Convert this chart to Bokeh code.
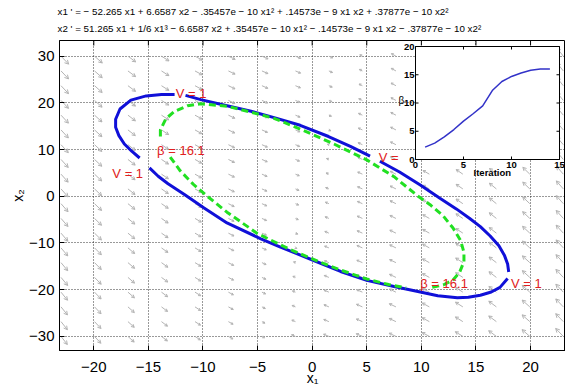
import numpy as np
from bokeh.plotting import figure
from bokeh.models import Range1d, FixedTicker, Title
from bokeh.core.properties import value
from bokeh.embed import file_html
from bokeh.resources import INLINE

FONT = "Liberation Sans"

# ---------------- data ----------------
eq_line1 = "x1 ' = − 52.265 x1 + 6.6587 x2 − .35457e − 10 x1² + .14573e − 9 x1 x2 + .37877e − 10 x2²"
eq_line2 = "x2 ' = 51.265 x1 + 1/6 x1³ − 6.6587 x2 + .35457e − 10 x1² − .14573e − 9 x1 x2 − .37877e − 10 x2²"

# x1' coefficients: [x1, x2, x1^2, x1*x2, x2^2]
coef_x1dot = [-52.265, 6.6587, -0.35457e-10, 0.14573e-9, 0.37877e-10]
# x2' coefficients: [x1, x1^3, x2, x1^2, x1*x2, x2^2]
coef_x2dot = [51.265, 1 / 6, -6.6587, 0.35457e-10, -0.14573e-9, -0.37877e-10]

# quiver grid positions
quiver_x = [-23.0, -19.93, -16.87, -13.8, -10.73, -7.67, -4.6, -1.53,
            1.53, 4.6, 7.67, 10.73, 13.8, 16.87, 19.93, 23.0]
quiver_y = [-30.0, -26.84, -23.68, -20.53, -17.37, -14.21, -11.05, -7.89, -4.74, -1.58,
            1.58, 4.74, 7.89, 11.05, 14.21, 17.37, 20.53, 23.68, 26.84, 30.0]

# V = 1 level curve (blue), split where the contour labels sit
v1_x = [
    [-11.6, -10.2, -8.0, -5.6, -3.4, -1.1, 1.5, 3.5, 5.3],
    [6.2, 8.0, 9.9, 11.7, 13.2, 14.4, 15.4, 16.3, 17.1, 17.6, 17.9, 18.0],
    [17.9, 17.2, 16.4, 15.4, 14.3, 13.3, 11.5, 9.9, 7.5, 5.0, 2.6, 0.2, -1.7, -2.9,
     -4.7, -7.8, -9.9, -11.7, -13.2, -14.1, -14.9],
    [-15.8, -16.5, -17.2, -17.7, -18.0, -18.0, -17.6, -16.6, -15.2, -13.8, -12.6],
]
v1_y = [
    [21.6, 20.7, 19.5, 18.2, 16.8, 15.2, 12.8, 10.7, 8.6],
    [7.5, 5.2, 2.4, -0.4, -2.7, -4.7, -6.5, -8.5, -10.6, -12.6, -14.5, -16.2],
    [-17.6, -19.5, -20.5, -21.2, -21.6, -21.7, -21.3, -20.5, -19.3, -18.0, -16.1, -13.8, -12.0, -10.9,
     -9.1, -5.7, -2.5, 0.4, 2.7, 4.3, 6.1],
    [8.2, 9.6, 11.2, 13.0, 14.8, 16.5, 18.7, 20.6, 21.5, 21.8, 21.8],
]

# beta = 16.1 level curve (green dashed)
b_x = [
    [-13.0, -12.1, -10.9, -9.6, -7.8, -5.0, -2.0, 0.5, 2.6, 5.0, 7.0, 8.6],
    [11.0, 12.0, 12.9, 13.5, 13.9, 13.9, 13.6, 12.9, 12.0, 10.8, 9.6, 7.5, 5.0, 2.0, -1.0,
     -3.5, -5.6, -7.8, -10.2, -11.4, -12.6, -13.4, -13.9, -13.9],
]
b_y = [
    [8.4, 5.5, 2.6, 0.0, -3.4, -8.0, -11.4, -13.9, -15.8, -17.7, -18.9, -19.6],
    [-19.5, -19.0, -17.9, -16.3, -14.0, -12.0, -9.5, -6.8, -4.2, -1.8, 0.2, 4.2, 7.8, 11.2, 14.3,
     16.7, 18.0, 19.3, 19.8, 19.4, 18.2, 16.6, 14.2, 12.4],
]

# contour labels
lbl_text = ["V = 1", "V = 1", "β = 16.1", "V =", "β = 16.1", "V = 1"]
lbl_x = [-12.5, -18.3, -14.2, 6.1, 9.9, 18.2]
lbl_y = [22.0, 4.9, 9.9, 8.3, -18.7, -18.7]

# axes ticks
x_ticks = [-20, -15, -10, -5, 0, 5, 10, 15, 20]
y_ticks = [-30, -20, -10, 0, 10, 20, 30]

# inset: beta per iteration
iteration = [1, 2, 3, 4, 5, 6, 7, 8, 9, 10, 11, 12, 13, 14]
beta = [2.2, 2.9, 4.0, 5.3, 6.8, 8.1, 9.5, 12.2, 13.8, 14.7, 15.3, 15.8, 16.0, 16.0]
inset_x_ticks = [0, 5, 10, 15]
inset_y_ticks = [0, 5, 10, 15, 20]
inset_xlim = (0, 15)
inset_ylim = (0, 20)

# ---------------- layout ----------------
W, H = 565, 392
BL, BR, BT, BB = 59, 0, 40, 42
X0, X1 = -23.14, 23.2
Y0, Y1 = -33.02, 33.36

p = figure(width=W, height=H, x_range=Range1d(X0, X1), y_range=Range1d(Y0, Y1),
           output_backend="svg", toolbar_location=None, title=None,
           min_border_left=BL, min_border_right=BR, min_border_top=BT, min_border_bottom=BB,
           background_fill_color="white", border_fill_color="white")
p.outline_line_color = "black"
p.outline_line_width = 1

kx = (W - BL - BR) / (X1 - X0)   # px per unit
ky = (H - BT - BB) / (Y1 - Y0)

# equations above the frame (outermost added last)
p.add_layout(Title(text=eq_line2, align="left", offset=-2, standoff=14, text_font=FONT,
                   text_font_size="9.8px", text_font_style="normal", text_color="black"), "above")
p.add_layout(Title(text=eq_line1, align="left", offset=-2, standoff=-7, text_font=FONT,
                   text_font_size="9.8px", text_font_style="normal", text_color="black"), "above")

# axes
for ax, ticks in ((p.xaxis[0], x_ticks), (p.yaxis[0], y_ticks)):
    ax.ticker = FixedTicker(ticks=ticks)
    ax.major_label_overrides = {t: str(t).replace("-", "−") for t in ticks}
    ax.major_tick_in = 5
    ax.major_tick_out = 0
    ax.minor_tick_line_color = None
    ax.axis_line_color = "black"
    ax.major_tick_line_color = "black"
    ax.major_label_text_font = FONT
    ax.major_label_text_font_size = "15px"
    ax.major_label_text_color = "black"
    ax.axis_label_text_font = FONT
    ax.axis_label_text_font_size = "14px"
    ax.axis_label_text_font_style = "normal"
    ax.axis_label_text_color = "black"
p.xaxis[0].axis_label = "x₁"
p.yaxis[0].axis_label = "x₂"
p.yaxis[0].major_label_standoff = 5
p.xaxis[0].major_label_standoff = 11
p.xaxis[0].axis_label_standoff = -5
p.yaxis[0].axis_label_standoff = 0

for g, ticks in ((p.xgrid[0], x_ticks), (p.ygrid[0], y_ticks)):
    g.ticker = FixedTicker(ticks=ticks)
    g.grid_line_color = "black"
    g.grid_line_alpha = 0.8
    g.grid_line_dash = "1 2"
    g.grid_line_width = 1

# inward ticks along the top edge of the box
p.segment(x_ticks, [Y1] * len(x_ticks), x_ticks, [Y1 - 5 / ky] * len(x_ticks),
          line_color="black", line_width=1)

# ---------------- vector field ----------------
QX, QY = np.meshgrid(np.array(quiver_x), np.array(quiver_y))
a = coef_x1dot
b = coef_x2dot
U = a[0] * QX + a[1] * QY + a[2] * QX ** 2 + a[3] * QX * QY + a[4] * QY ** 2
V = b[0] * QX + b[1] * QX ** 3 + b[2] * QY + b[3] * QX ** 2 + b[4] * QX * QY + b[5] * QY ** 2
su, sv = U * kx, V * ky
mag = np.hypot(su, sv)
L = 11.0 * (mag / mag.max()) ** 0.35
ux, uy = su / mag, sv / mag
xs0, ys0 = QX.ravel(), QY.ravel()
xe = (QX + L * ux / kx).ravel()
ye = (QY + L * uy / ky).ravel()
Hh = np.maximum(0.4 * L, 2.4).ravel()
bx, by = -ux.ravel(), -uy.ravel()
seg_x0, seg_y0, seg_x1, seg_y1 = [xs0], [ys0], [xe], [ye]
for s in (1, -1):
    ang = np.radians(28) * s
    rx = bx * np.cos(ang) - by * np.sin(ang)
    ry = bx * np.sin(ang) + by * np.cos(ang)
    seg_x0.append(xe)
    seg_y0.append(ye)
    seg_x1.append(xe + Hh * rx / kx)
    seg_y1.append(ye + Hh * ry / ky)
p.segment(np.concatenate(seg_x0), np.concatenate(seg_y0), np.concatenate(seg_x1), np.concatenate(seg_y1),
          line_color="#b4b4b4", line_width=1)

# ---------------- level curves ----------------
p.multi_line(v1_x, v1_y, line_color="#1010d8", line_width=3)
p.multi_line(b_x, b_y, line_color="#22e022", line_width=3, line_dash="7 4")

p.text(lbl_x, lbl_y, text=lbl_text, text_font=value(FONT), text_font_size="13px",
       text_color="#e02020", text_baseline="middle", text_align="left")

# ---------------- inset (own ranges placed in the upper right) ----------------
FL, FR, FT, FB = BL, W - BR, BT, H - BB
IL, IR, IT, IB = 415, 559, 46, 159
sxi = (inset_xlim[1] - inset_xlim[0]) / (IR - IL)
syi = (inset_ylim[1] - inset_ylim[0]) / (IB - IT)
p.extra_x_ranges = {"ix": Range1d(inset_xlim[0] - (IL - FL) * sxi, inset_xlim[1] + (FR - IR) * sxi)}
p.extra_y_ranges = {"iy": Range1d(inset_ylim[0] - (FB - IB) * syi, inset_ylim[1] + (IT - FT) * syi)}
ikw = dict(x_range_name="ix", y_range_name="iy", level="overlay")

p.quad(left=[inset_xlim[0]], right=[inset_xlim[1]], bottom=[inset_ylim[0]], top=[inset_ylim[1]],
       fill_color="white", line_color="black", line_width=1, **ikw)
tl = 3.0
tx0, ty0, tx1, ty1 = [], [], [], []
for t in inset_x_ticks:
    tx0 += [t, t]
    tx1 += [t, t]
    ty0 += [inset_ylim[0], inset_ylim[1]]
    ty1 += [inset_ylim[0] + tl * syi, inset_ylim[1] - tl * syi]
for t in inset_y_ticks:
    ty0 += [t, t]
    ty1 += [t, t]
    tx0 += [inset_xlim[0], inset_xlim[1]]
    tx1 += [inset_xlim[0] + tl * sxi, inset_xlim[1] - tl * sxi]
p.segment(tx0, ty0, tx1, ty1, line_color="black", line_width=1, **ikw)
p.line(iteration, beta, line_color="#3232c8", line_width=1.5, **ikw)
p.text(inset_x_ticks, [inset_ylim[0]] * len(inset_x_ticks), text=[str(t) for t in inset_x_ticks],
       text_font=value(FONT), text_font_size="9.5px", text_font_style="bold", text_color="black",
       text_align="center", text_baseline="top", y_offset=2, **ikw)
p.text([inset_xlim[0]] * len(inset_y_ticks), inset_y_ticks, text=[str(t) for t in inset_y_ticks],
       text_font=value(FONT), text_font_size="9.5px", text_font_style="bold", text_color="black",
       text_align="right", text_baseline="middle", x_offset=-1, **ikw)
p.text([inset_xlim[0]], [10], text=["β"], text_font=value(FONT), text_font_size="10px",
       text_color="black", text_align="center", text_baseline="middle", x_offset=-14, y_offset=-3, **ikw)
p.text([8.0], [inset_ylim[0]], text=["Iteration"], text_font=value(FONT), text_font_size="9.5px",
       text_font_style="bold", text_color="black", text_align="center", text_baseline="top",
       y_offset=7, **ikw)

open("out.html", "w").write(file_html(p, INLINE))
